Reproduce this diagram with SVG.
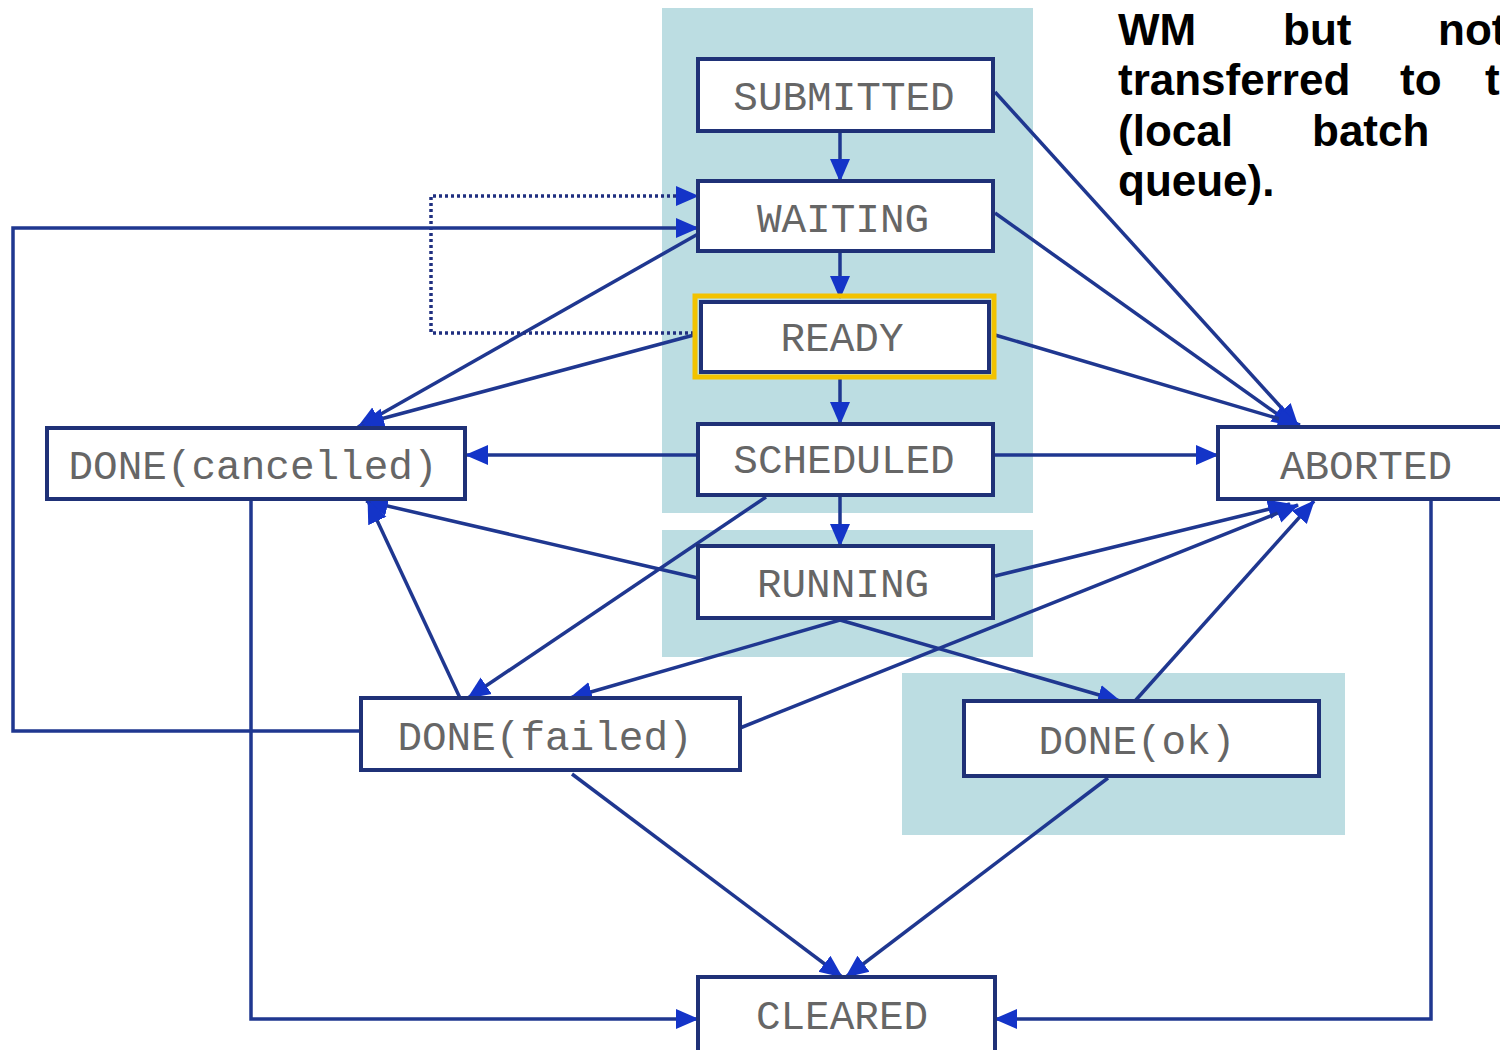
<svg xmlns="http://www.w3.org/2000/svg" width="1500" height="1050" viewBox="0 0 1500 1050">
<style>
.panel{fill:#bcdde2}
.box{fill:#ffffff;stroke:#1f3177;stroke-width:4}
.lbl{font-family:"Liberation Mono","DejaVu Sans Mono",monospace;font-size:41px;fill:#666666;text-anchor:middle}
.note{font-family:"Liberation Sans",Arial,sans-serif;font-weight:bold;font-size:44px;fill:#000}
.edge{fill:none;stroke:#1f3790;stroke-width:3.5;marker-end:url(#arr)}
.dot{fill:none;stroke:#1f2f80;stroke-width:3.5;stroke-dasharray:3 3;marker-end:url(#arr)}
</style>
<defs>
<marker id="arr" markerUnits="userSpaceOnUse" markerWidth="24" markerHeight="24" viewBox="0 0 24 24" refX="22" refY="12" orient="auto">
<path d="M0,2 L23,12 L0,22 Z" fill="#1434c8"/>
</marker>
</defs>
<rect width="1500" height="1050" fill="#ffffff"/>
<g id="panels">
<rect class="panel" x="662" y="8" width="371" height="505"/>
<rect class="panel" x="662" y="530" width="371" height="127"/>
<rect class="panel" x="902" y="673" width="443" height="162"/>
</g>
<g id="note">
<text class="note" x="1118" y="45">WM</text>
<text class="note" x="1283" y="45">but</text>
<text class="note" x="1438" y="45">not</text>
<text class="note" x="1118" y="95">transferred</text>
<text class="note" x="1400" y="95">to</text>
<text class="note" x="1485" y="95">t</text>
<text class="note" x="1118" y="146">(local</text>
<text class="note" x="1312" y="146">batch</text>
<text class="note" x="1118" y="196">queue).</text>
</g>
<g id="connectors">
<path class="edge" d="M840,131 L840,181"/>
<path class="edge" d="M840,251 L840,298"/>
<path class="edge" d="M840,377 L840,424"/>
<path class="edge" d="M840,495 L840,546"/>
<path class="edge" d="M995,92 L1298,426"/>
<path class="edge" d="M995,213 L1294,426"/>
<path class="edge" d="M995,335 L1300,425"/>
<path class="edge" d="M995,455 L1218,455"/>
<path class="edge" d="M698,455 L466,455"/>
<path class="edge" d="M698,234 L358,427"/>
<path class="edge" d="M694,335 L362,424"/>
<path class="dot" d="M694,333 L431,333 L431,196 L698,196"/>
<path class="edge" d="M361,731 L13,731 L13,228 L698,228"/>
<path class="edge" d="M698,578 L366,501"/>
<path class="edge" d="M460,698 L368,501"/>
<path class="edge" d="M766,497 L468,698"/>
<path class="edge" d="M840,620 L570,698"/>
<path class="edge" d="M840,620 L1120,701"/>
<path class="edge" d="M995,576 L1290,504"/>
<path class="edge" d="M740,728 L1298,505"/>
<path class="edge" d="M1135,701 L1314,501"/>
<path class="edge" d="M572,774 L842,977"/>
<path class="edge" d="M1108,778 L846,977"/>
<path class="edge" d="M251,499 L251,1019 L698,1019"/>
<path class="edge" d="M1431,499 L1431,1019 L995,1019"/>
</g>
<g id="submitted">
<rect class="box" x="698" y="59" width="295" height="72"/>
<text class="lbl" x="844" y="110">SUBMITTED</text>
</g>
<g id="waiting">
<rect class="box" x="698" y="181" width="295" height="70"/>
<text class="lbl" x="843" y="232">WAITING</text>
</g>
<g id="ready">
<rect x="695" y="296" width="299" height="81" fill="none" stroke="#f2c200" stroke-width="5"/>
<rect class="box" x="701" y="302" width="288" height="70" stroke-width="3"/>
<text class="lbl" x="842" y="351">READY</text>
</g>
<g id="scheduled">
<rect class="box" x="698" y="424" width="295" height="71"/>
<text class="lbl" x="844" y="473">SCHEDULED</text>
</g>
<g id="running">
<rect class="box" x="698" y="546" width="295" height="72"/>
<text class="lbl" x="843" y="597">RUNNING</text>
</g>
<g id="done-cancelled">
<rect class="box" x="47" y="428" width="418" height="71"/>
<text class="lbl" x="253" y="479">DONE(cancelled)</text>
</g>
<g id="aborted">
<rect class="box" x="1218" y="427" width="290" height="72"/>
<text class="lbl" x="1366" y="479">ABORTED</text>
</g>
<g id="done-failed">
<rect class="box" x="361" y="698" width="379" height="72"/>
<text class="lbl" x="545" y="750">DONE(failed)</text>
</g>
<g id="done-ok">
<rect class="box" x="964" y="701" width="355" height="75"/>
<text class="lbl" x="1137" y="754">DONE(ok)</text>
</g>
<g id="cleared">
<rect class="box" x="698" y="977" width="297" height="80"/>
<text class="lbl" x="842" y="1029">CLEARED</text>
</g>
</svg>
